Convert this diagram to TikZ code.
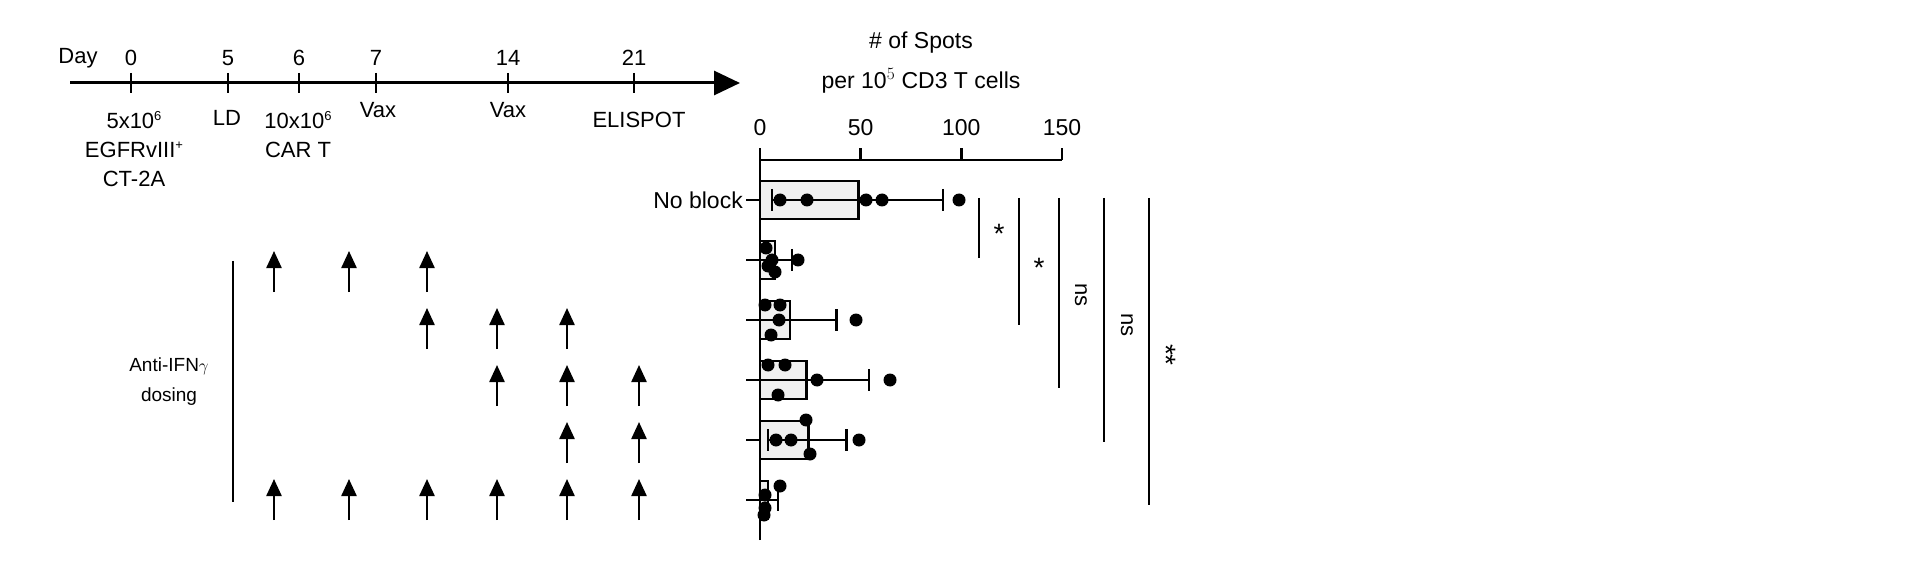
\documentclass[tikz,border=0pt]{standalone}
\usepackage{fontspec}
\setmainfont{Liberation Sans}
\usetikzlibrary{arrows.meta,positioning}
\tikzset{
    lbl/.style={inner sep=0pt, font=\fontsize{22}{25}\selectfont},
    dose/.style={line width=2.4pt, -{Triangle[length=17pt,width=15pt]}},
    axisline/.style={line width=2.4pt},
    barbox/.style={draw, line width=2.4pt, fill=black!6},
    dot/.style={circle, fill=black, inner sep=0pt, minimum size=13pt},
    sigline/.style={line width=2pt},
}
\newcommand{\vx}[1]{760+2.013*#1}
\newcommand{\supsm}[1]{\raisebox{0.75ex}{\fontsize{13}{13}\selectfont #1}}
\begin{document}
\begin{tikzpicture}[x=1pt,y=-1pt]
\useasboundingbox (0,0) rectangle (1920,580);

 % timeline
 \coordinate (tl0) at (70,83);
 \coordinate (tl1) at (740,83);
 \draw[line width=3pt,-{Triangle[length=26pt,width=24pt]}] (tl0) -- (tl1);
 \node[lbl] (day) at (78,58) {Day};
 \foreach \d/\x in {0/131,5/228,6/299,7/376,14/508,21/634}
 {
  \draw[line width=2pt] (\x,73) -- (\x,93);
  \node[lbl] (d\d) at (\x,58) {\d};
 }
 \node[lbl,align=center,anchor=north] (tumor) at (134,111)
  {5x10\supsm{6}\\[4pt]EGFRvIII\supsm{+}\\[4pt]CT-2A};
 \node[lbl] (ld) at (227,118) {LD};
 \node[lbl,align=center,anchor=north] (cart) at (298,111)
  {10x10\supsm{6}\\[4pt]CAR T};
 \node[lbl] (vax1) at (378,110) {Vax};
 \node[lbl] (vax2) at (508,110) {Vax};
 \node[lbl] (elispot) at (639,120) {ELISPOT};

 % dosing schedule
 \draw[line width=1.6pt] (233,261) -- (233,502);
 \node[lbl,align=center,font=\fontsize{19}{30}\selectfont] (antiifn) at (169,382)
  {Anti-IFN$\gamma$\\dosing};
 \foreach \r/\xs in {0/{274,349,427},1/{427,497,567},2/{497,567,639},3/{567,639},4/{274,349,427,497,567,639}}
  \foreach \x in \xs
   \draw[dose] (\x,{292+\r*57}) -- (\x,{251+\r*57});

 % chart axes
 \node[lbl,align=center,font=\fontsize{23}{40}\selectfont] (ytitle) at (921,63)
  {\# of Spots\\per 10$^5$ CD3 T cells};
 \draw[axisline] (760,540) -- (760,160) -- (1062,160);
 \foreach \v in {0,50,100,150}
 {
  \draw[axisline] ({\vx{\v}},160) -- ({\vx{\v}},148);
  \node[lbl,font=\fontsize{23}{25}\selectfont] (t\v) at ({\vx{\v}},128) {\v};
 }
 \foreach \y in {200,260,320,380,440,500}
  \draw[axisline] (746,\y) -- (760,\y);
 \node[lbl,anchor=east,font=\fontsize{23}{25}\selectfont] (noblock) at (743,200) {No block};

 % bars, error bars, points
 \foreach \y/\m/\e/\el in {200/49/91/6,260/7.5/16/0,320/15/38/0,380/23/54/0,440/24/43/4,500/4/9/0}
 {
  \draw[barbox] (760,{\y-19}) rectangle ({\vx{\m}},{\y+19});
  \draw[line width=2.2pt] ({\vx{\el}},\y) -- ({\vx{\e}},\y);
  \draw[line width=2.2pt] ({\vx{\e}},{\y-11}) -- ({\vx{\e}},{\y+11});
 }
 \draw[line width=2.2pt] ({\vx{6}},189) -- ({\vx{6}},211);
 \draw[line width=2.2pt] ({\vx{4}},429) -- ({\vx{4}},451);
 \foreach \px/\py in {780/200,807/200,866/200,882/200,959/200,
   766/248,772/260,775/272,768/266,798/260,
   765/305,780/305,779/320,771/335,856/320,
   768/365,785/365,817/380,778/395,890/380,
   776/440,791/440,806/420,810/454,859/440,
   780/486,765/495,765/508,764/515}
  \node[dot] at (\px,\py) {};

 % significance
 \draw[sigline] (979,198) -- (979,258);
 \node[lbl,font=\fontsize{28}{28}\selectfont] (s1) at (999,234) {*};
 \draw[sigline] (1019,198) -- (1019,325);
 \node[lbl,font=\fontsize{28}{28}\selectfont] (s2) at (1039,268) {*};
 \draw[sigline] (1059,198) -- (1059,388);
 \node[lbl,rotate=-90] (s3) at (1081,295) {ns};
 \draw[sigline] (1104,198) -- (1104,442);
 \node[lbl,rotate=-90] (s4) at (1127,325) {ns};
 \draw[sigline] (1149,198) -- (1149,505);
 \node[lbl,rotate=-90,font=\fontsize{28}{28}\selectfont] (s5) at (1166,355) {**};
\end{tikzpicture}
\end{document}
